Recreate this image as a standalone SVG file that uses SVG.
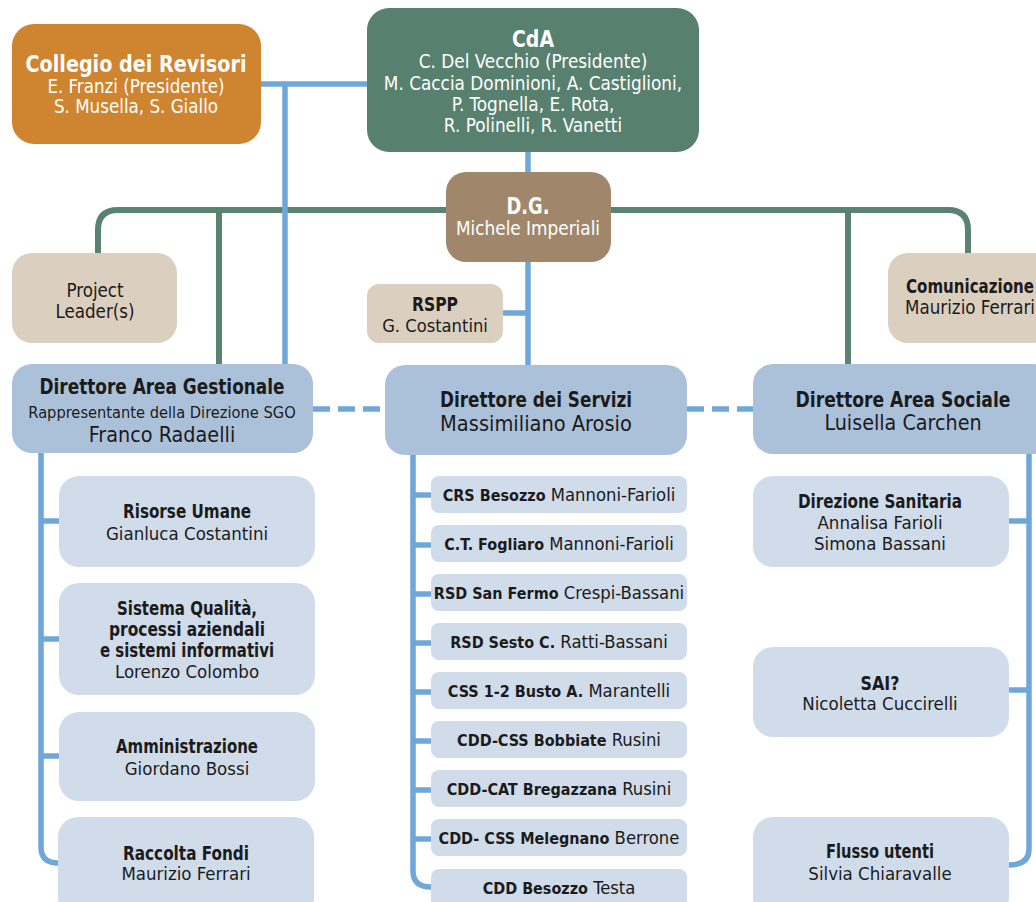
<svg xmlns="http://www.w3.org/2000/svg" width="1036" height="902" viewBox="0 0 1036 902">
<style>
text{font-family:"DejaVu Sans Condensed","Liberation Sans",sans-serif;text-anchor:middle;fill:#1b1b1b}
.b{font-weight:bold}
.w{fill:#ffffff}
.blue{fill:none;stroke:#6fa7d8;stroke-width:5.5}
.green{fill:none;stroke:#5a8271;stroke-width:6}
.dash{fill:none;stroke:#6fa7d8;stroke-width:5.5;stroke-dasharray:17 8}
.dir{fill:#abc1da}
.sub{fill:#d0dcea}
.beige{fill:#dbcfc0}
.m{font-size:18.3px}
.m tspan{font-weight:bold;font-size:16px}
</style>
<rect width="1036" height="902" fill="#ffffff"/>
<g id="connectors">
<path class="green" d="M98,253 V230 Q98,210 118,210 H948 Q968,210 968,230 V253"/>
<path class="green" d="M219,210 V364"/>
<path class="green" d="M848,210 V364"/>
<path class="blue" d="M261,84 H368"/>
<path class="blue" d="M285,84 V365"/>
<path class="blue" d="M528,152 V172"/>
<path class="blue" d="M528,262 V365"/>
<path class="blue" d="M503,313 H528"/>
<path class="dash" d="M313,409 H385"/>
<path class="dash" d="M687,409 H753"/>
<path class="blue" d="M41,453 V847 Q41,863 58,863"/>
<path class="blue" d="M41,521 H59 M41,639 H59 M41,756 H59"/>
<path class="blue" d="M413,455 V871 Q413,887 431,887"/>
<path class="blue" d="M413,495 H431 M413,545 H431 M413,594 H431 M413,643 H431 M413,692 H431 M413,741 H431 M413,790 H431 M413,839 H431"/>
<path class="blue" d="M1029,454 V849 Q1029,865 1009,865"/>
<path class="blue" d="M1009,521 H1029 M1009,690 H1029"/>
</g>
<g id="collegio">
<rect x="12" y="24" width="249" height="120" rx="22" fill="#cf842f"/>
<text class="b w" x="136" y="72" font-size="23" textLength="221" lengthAdjust="spacingAndGlyphs">Collegio dei Revisori</text>
<text class="w" x="136" y="93" font-size="18.6">E. Franzi (Presidente)</text>
<text class="w" x="136" y="113" font-size="18.6">S. Musella, S. Giallo</text>
</g>
<g id="cda">
<rect x="367" y="8" width="332" height="144" rx="22" fill="#58806f"/>
<text class="b w" x="533" y="47" font-size="23" textLength="42" lengthAdjust="spacingAndGlyphs">CdA</text>
<text class="w" x="533" y="68" font-size="18.8">C. Del Vecchio (Presidente)</text>
<text class="w" x="533" y="90" font-size="18.8">M. Caccia Dominioni, A. Castiglioni,</text>
<text class="w" x="533" y="111" font-size="18.8">P. Tognella, E. Rota,</text>
<text class="w" x="533" y="132" font-size="18.8">R. Polinelli, R. Vanetti</text>
</g>
<g id="dg">
<rect x="446" y="172" width="165" height="90" rx="20" fill="#a0876b"/>
<text class="b w" x="528" y="214" font-size="23" textLength="43" lengthAdjust="spacingAndGlyphs">D.G.</text>
<text class="w" x="528" y="235" font-size="18.8">Michele Imperiali</text>
</g>
<g id="project-leader">
<rect x="12" y="253" width="165" height="90" rx="20" class="beige"/>
<text x="95" y="297" font-size="18.6">Project</text>
<text x="95" y="318" font-size="18.6">Leader(s)</text>
</g>
<g id="comunicazione">
<rect x="888" y="253" width="165" height="90" rx="20" class="beige"/>
<text class="b" x="970" y="293" font-size="19" textLength="128" lengthAdjust="spacingAndGlyphs">Comunicazione</text>
<text x="970" y="314" font-size="18.6">Maurizio Ferrari</text>
</g>
<g id="rspp">
<rect x="367" y="284" width="136" height="59" rx="12" class="beige"/>
<text class="b" x="435" y="311" font-size="19" textLength="46" lengthAdjust="spacingAndGlyphs">RSPP</text>
<text x="435" y="332" font-size="18.2">G. Costantini</text>
</g>
<g id="dir-gestionale">
<rect x="12" y="364" width="301" height="89" rx="20" class="dir"/>
<text class="b" x="162" y="394" font-size="21" textLength="245" lengthAdjust="spacingAndGlyphs">Direttore Area Gestionale</text>
<text x="162" y="418" font-size="16.3">Rappresentante della Direzione SGO</text>
<text x="162" y="442" font-size="21.4">Franco Radaelli</text>
</g>
<g id="dir-servizi">
<rect x="385" y="365" width="302" height="90" rx="20" class="dir"/>
<text class="b" x="536" y="407" font-size="21" textLength="192" lengthAdjust="spacingAndGlyphs">Direttore dei Servizi</text>
<text x="536" y="431" font-size="21.6">Massimiliano Arosio</text>
</g>
<g id="dir-sociale">
<rect x="753" y="364" width="300" height="90" rx="20" class="dir"/>
<text class="b" x="903" y="407" font-size="21" textLength="215" lengthAdjust="spacingAndGlyphs">Direttore Area Sociale</text>
<text x="903" y="430" font-size="21.3">Luisella Carchen</text>
</g>
<g id="risorse-umane">
<rect x="59" y="476" width="256" height="91" rx="20" class="sub"/>
<text class="b" x="187" y="518" font-size="19.5" textLength="128" lengthAdjust="spacingAndGlyphs">Risorse Umane</text>
<text x="187" y="540" font-size="18.5">Gianluca Costantini</text>
</g>
<g id="sistema-qualita">
<rect x="59" y="583" width="256" height="112" rx="20" class="sub"/>
<text class="b" x="187" y="615" font-size="19.5" textLength="140" lengthAdjust="spacingAndGlyphs">Sistema Qualità,</text>
<text class="b" x="187" y="636" font-size="19.5" textLength="156" lengthAdjust="spacingAndGlyphs">processi aziendali</text>
<text class="b" x="187" y="657" font-size="19.5" textLength="174" lengthAdjust="spacingAndGlyphs">e sistemi informativi</text>
<text x="187" y="678" font-size="18.5">Lorenzo Colombo</text>
</g>
<g id="amministrazione">
<rect x="59" y="712" width="256" height="89" rx="20" class="sub"/>
<text class="b" x="187" y="753" font-size="19.5" textLength="142" lengthAdjust="spacingAndGlyphs">Amministrazione</text>
<text x="187" y="775" font-size="18.5">Giordano Bossi</text>
</g>
<g id="raccolta-fondi">
<rect x="58" y="817" width="256" height="100" rx="20" class="sub"/>
<text class="b" x="186" y="860" font-size="19.5" textLength="126" lengthAdjust="spacingAndGlyphs">Raccolta Fondi</text>
<text x="186" y="880" font-size="18.5">Maurizio Ferrari</text>
</g>
<g id="crs-besozzo">
<rect x="431" y="476" width="256" height="37" rx="8" class="sub"/>
<text class="m" x="559" y="501"><tspan>CRS Besozzo</tspan> Mannoni-Farioli</text>
</g>
<g id="ct-fogliaro">
<rect x="431" y="525" width="256" height="37" rx="8" class="sub"/>
<text class="m" x="559" y="550"><tspan>C.T. Fogliaro</tspan> Mannoni-Farioli</text>
</g>
<g id="rsd-san-fermo">
<rect x="431" y="574" width="256" height="37" rx="8" class="sub"/>
<text class="m" x="559" y="599"><tspan>RSD San Fermo</tspan> Crespi-Bassani</text>
</g>
<g id="rsd-sesto">
<rect x="431" y="623" width="256" height="37" rx="8" class="sub"/>
<text class="m" x="559" y="648"><tspan>RSD Sesto C.</tspan> Ratti-Bassani</text>
</g>
<g id="css-busto">
<rect x="431" y="672" width="256" height="37" rx="8" class="sub"/>
<text class="m" x="559" y="697"><tspan>CSS 1-2 Busto A.</tspan> Marantelli</text>
</g>
<g id="cdd-css-bobbiate">
<rect x="431" y="721" width="256" height="37" rx="8" class="sub"/>
<text class="m" x="559" y="746"><tspan>CDD-CSS Bobbiate</tspan> Rusini</text>
</g>
<g id="cdd-cat-bregazzana">
<rect x="431" y="770" width="256" height="37" rx="8" class="sub"/>
<text class="m" x="559" y="795"><tspan>CDD-CAT Bregazzana</tspan> Rusini</text>
</g>
<g id="cdd-css-melegnano">
<rect x="431" y="819" width="256" height="37" rx="8" class="sub"/>
<text class="m" x="559" y="844"><tspan>CDD- CSS Melegnano</tspan> Berrone</text>
</g>
<g id="cdd-besozzo">
<rect x="431" y="869" width="256" height="40" rx="8" class="sub"/>
<text class="m" x="559" y="894"><tspan>CDD Besozzo</tspan> Testa</text>
</g>
<g id="direzione-sanitaria">
<rect x="753" y="476" width="256" height="91" rx="20" class="sub"/>
<text class="b" x="880" y="508" font-size="19.5" textLength="164" lengthAdjust="spacingAndGlyphs">Direzione Sanitaria</text>
<text x="880" y="529" font-size="18.5">Annalisa Farioli</text>
<text x="880" y="550" font-size="18.5">Simona Bassani</text>
</g>
<g id="sai">
<rect x="753" y="647" width="256" height="90" rx="20" class="sub"/>
<text class="b" x="880" y="690" font-size="19.5" textLength="39" lengthAdjust="spacingAndGlyphs">SAI?</text>
<text x="880" y="710" font-size="18.5">Nicoletta Cuccirelli</text>
</g>
<g id="flusso-utenti">
<rect x="753" y="817" width="256" height="100" rx="20" class="sub"/>
<text class="b" x="880" y="858" font-size="19.5" textLength="108" lengthAdjust="spacingAndGlyphs">Flusso utenti</text>
<text x="880" y="880" font-size="18.5">Silvia Chiaravalle</text>
</g>
</svg>
